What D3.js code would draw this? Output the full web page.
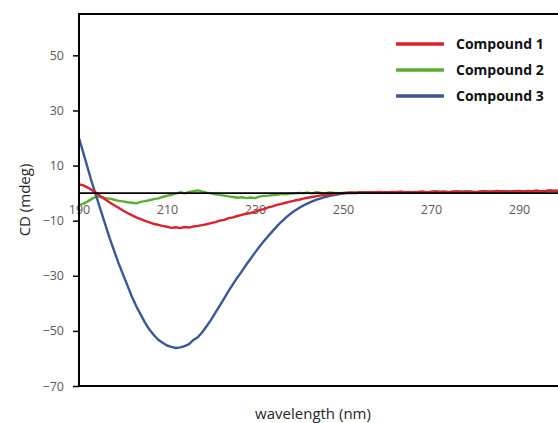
<!DOCTYPE html>
<html>
<head>
<meta charset="utf-8">
<script src="https://cdn.jsdelivr.net/npm/d3@7"></script>
<style>
  html, body { margin: 0; padding: 0; background: #fff; }
  svg { display: block; }
  text { font-family: "Open Sans", Lato, "Liberation Sans", sans-serif; }
</style>
</head>
<body>
<svg id="chart" width="558" height="423"></svg>
<script>
// Wavelength grid (nm), 1 nm steps
const wavelengths = d3.range(190, 301);

// CD signal (mdeg) per compound, 190–300 nm
const compound1 = [
  3.2, 2.8, 2.0, 1.0, 0.0, -1.2, -2.3, -3.4, -4.4, -5.3,
  -6.3, -7.2, -8.0, -8.8, -9.4, -10.1, -10.6, -11.2, -11.5, -11.9,
  -12.2, -12.6, -12.4, -12.7, -12.3, -12.5, -12.1, -11.9, -11.6, -11.3,
  -10.9, -10.5, -10.0, -9.7, -9.1, -8.8, -8.3, -7.9, -7.5, -7.2,
  -6.7, -6.2, -5.8, -5.2, -4.8, -4.3, -3.9, -3.5, -3.1, -2.7,
  -2.4, -2.0, -1.7, -1.4, -1.1, -0.8, -0.6, -0.4, -0.3, -0.1,
  0.0, 0.1, 0.2, 0.1, 0.3, 0.2, 0.3, 0.2, 0.4, 0.3,
  0.2, 0.4, 0.3, 0.5, 0.3, 0.4, 0.2, 0.4, 0.5, 0.3,
  0.4, 0.6, 0.4, 0.5, 0.3, 0.5, 0.6, 0.4, 0.6, 0.5,
  0.3, 0.5, 0.7, 0.5, 0.6, 0.8, 0.6, 0.7, 0.5, 0.7,
  0.8, 0.6, 0.8, 0.7, 0.9, 0.7, 0.8, 1.0, 0.8, 0.9, 1.0
];

const compound2 = [
  -4.5, -3.8, -3.0, -2.0, -1.2, -1.4, -1.8, -2.0, -2.4, -2.8,
  -3.0, -3.3, -3.5, -3.7, -3.2, -2.9, -2.6, -2.2, -1.9, -1.4,
  -1.0, -0.6, -0.2, 0.3, -0.1, 0.4, 0.7, 1.0, 0.6, 0.2,
  -0.1, -0.4, -0.6, -0.9, -1.2, -1.4, -1.7, -1.5, -1.8, -1.6,
  -1.8, -1.3, -1.0, -0.9, -0.7, -0.6, -0.3, -0.4, -0.2, -0.1,
  0.1, 0.0, 0.2, -0.1, 0.3, 0.1, 0.0, 0.2, 0.1, 0.0,
  0.1, 0.2, 0.1, 0.2, 0.3, 0.2, 0.1, 0.3, 0.2, 0.3,
  0.2, 0.3, 0.4, 0.2, 0.3, 0.2, 0.4, 0.3, 0.4, 0.3,
  0.4, 0.5, 0.3, 0.4, 0.3, 0.5, 0.4, 0.5, 0.4, 0.5,
  0.3, 0.5, 0.6, 0.4, 0.5, 0.6, 0.5, 0.6, 0.5, 0.6,
  0.7, 0.5, 0.7, 0.6, 0.7, 0.6, 0.7, 0.8, 0.7, 0.8, 0.8
];

const compound3 = [
  20.0, 14.5, 9.0, 3.5, -1.5, -6.5, -11.5, -16.5, -21.0, -25.5,
  -29.5, -33.5, -37.5, -41.0, -44.0, -47.0, -49.5, -51.5, -53.2, -54.3,
  -55.3, -55.8, -56.2, -56.0, -55.5, -54.8, -53.3, -52.3, -50.5, -48.3,
  -46.0, -43.4, -40.8, -38.2, -35.5, -33.0, -30.6, -28.4, -26.0, -23.8,
  -21.6, -19.5, -17.5, -15.6, -13.8, -12.0, -10.4, -8.9, -7.6, -6.4,
  -5.4, -4.5, -3.7, -3.0, -2.4, -1.9, -1.4, -1.0, -0.7, -0.4,
  -0.2, 0.0, 0.1, 0.0, 0.2, 0.1, 0.2, 0.1, 0.3, 0.2,
  0.2, 0.3, 0.2, 0.4, 0.3, 0.3, 0.2, 0.3, 0.4, 0.3,
  0.4, 0.5, 0.4, 0.4, 0.3, 0.4, 0.5, 0.4, 0.5, 0.4,
  0.3, 0.4, 0.6, 0.5, 0.5, 0.7, 0.6, 0.6, 0.5, 0.6,
  0.7, 0.6, 0.7, 0.7, 0.8, 0.7, 0.7, 0.9, 0.8, 0.8, 0.9
];

const seriesNames = ["Compound 1", "Compound 2", "Compound 3"];
const seriesColors = ["#d9232a", "#5cad35", "#3b5894"];
const xTicks = [190, 210, 230, 250, 270, 290];
const yTicks = [-70, -50, -30, -10, 10, 30, 50];

const svg = d3.select("#chart");

const x = d3.scaleLinear().domain([190, 300]).range([79, 563]);
const y = d3.scaleLinear().domain([-70, 65]).range([386, 14]);

// Y axis with outward ticks on the left edge
const yAxis = svg.append("g")
  .attr("transform", `translate(${x(190)},0)`)
  .call(d3.axisLeft(y).tickValues(yTicks).tickSize(6).tickSizeOuter(0).tickPadding(9));
yAxis.select(".domain").remove();
yAxis.selectAll(".tick line").attr("stroke", "#000").attr("stroke-width", 1.5);
yAxis.selectAll(".tick text")
  .attr("fill", "#595959").attr("font-size", 12.5)
  .style("font-family", "'Open Sans', Lato, sans-serif");

// X tick labels hang just below the zero line
const xAxis = svg.append("g")
  .attr("transform", `translate(0,${y(0)})`)
  .call(d3.axisBottom(x).tickValues(xTicks).tickSize(0).tickPadding(12));
xAxis.select(".domain").remove();
xAxis.selectAll(".tick text")
  .attr("fill", "#595959").attr("font-size", 12.5)
  .style("font-family", "'Open Sans', Lato, sans-serif");

// Series lines
const line = d3.line().x((d, i) => x(wavelengths[i])).y(d => y(d));
const drawOrder = [1, 2, 0];
drawOrder.forEach(k => {
  const vals = [compound1, compound2, compound3][k];
  svg.append("path")
    .datum(vals)
    .attr("fill", "none")
    .attr("stroke", seriesColors[k])
    .attr("stroke-width", 2.4)
    .attr("stroke-linejoin", "round")
    .attr("d", line);
});

// Zero reference line
svg.append("line")
  .attr("x1", x(190)).attr("x2", x(300))
  .attr("y1", y(0)).attr("y2", y(0))
  .attr("stroke", "#000").attr("stroke-width", 1.8);

// Plot frame
svg.append("rect")
  .attr("x", x(190)).attr("y", y(65))
  .attr("width", x(300) - x(190)).attr("height", y(-70) - y(65))
  .attr("fill", "none").attr("stroke", "#000").attr("stroke-width", 2);

// Axis titles
svg.append("text")
  .attr("x", 313).attr("y", 419)
  .attr("text-anchor", "middle")
  .attr("font-size", 15).attr("fill", "#262626")
  .text("wavelength (nm)");

svg.append("text")
  .attr("transform", `translate(30,200) rotate(-90)`)
  .attr("text-anchor", "middle")
  .attr("font-size", 15).attr("fill", "#262626")
  .text("CD (mdeg)");

// Legend
const legend = svg.append("g");
seriesNames.forEach((name, i) => {
  const ly = 44 + i * 26;
  legend.append("line")
    .attr("x1", 396).attr("x2", 444)
    .attr("y1", ly).attr("y2", ly)
    .attr("stroke", seriesColors[i]).attr("stroke-width", 3.5);
  legend.append("text")
    .attr("x", 456).attr("y", ly + 5)
    .attr("font-size", 14).attr("font-weight", "bold").attr("fill", "#111")
    .text(name);
});
</script>
</body>
</html>
